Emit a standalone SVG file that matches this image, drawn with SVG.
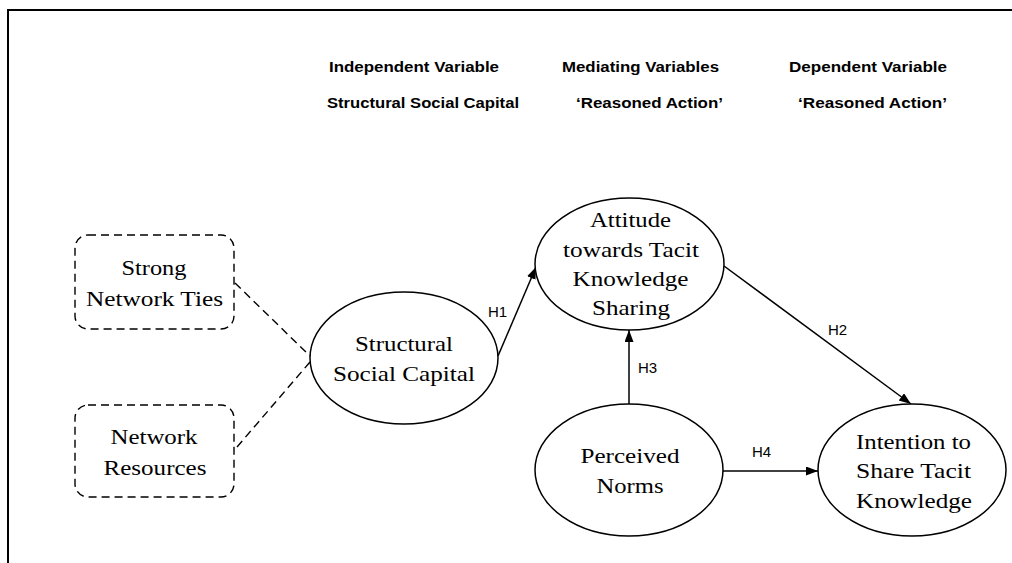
<svg xmlns="http://www.w3.org/2000/svg" width="1012" height="563" viewBox="0 0 1012 563">
<defs>
<style>
.frame{fill:none;stroke:#000;stroke-width:2}
.node{fill:#fff;stroke:#000;stroke-width:1.5}
.dbox{fill:#fff;stroke:#000;stroke-width:1.4;stroke-dasharray:8,5}
.dline{fill:none;stroke:#000;stroke-width:1.4;stroke-dasharray:8,5}
.arr{fill:none;stroke:#000;stroke-width:1.5;marker-end:url(#ah)}
.lbl{font-family:"Liberation Serif","Times New Roman",serif;font-size:22px;fill:#000;text-anchor:middle}
.hd{font-family:"Liberation Sans",Arial,sans-serif;font-size:14px;font-weight:bold;fill:#000}
.h{font-family:"Liberation Sans",Arial,sans-serif;font-size:15px;fill:#000}
</style>
<marker id="ah" markerWidth="13" markerHeight="10" refX="12" refY="4.5" orient="auto" markerUnits="userSpaceOnUse">
<path d="M0,0 L12,4.5 L0,9 z" fill="#000"/>
</marker>
</defs>
<rect width="1012" height="563" fill="#fff"/>
<path class="frame" d="M8,563 L8,10 L1012,10"/>
<g id="headers">
<text class="hd" x="329" y="72" textLength="170" lengthAdjust="spacingAndGlyphs">Independent Variable</text>
<text class="hd" x="562" y="72" textLength="157" lengthAdjust="spacingAndGlyphs">Mediating Variables</text>
<text class="hd" x="789" y="72" textLength="158" lengthAdjust="spacingAndGlyphs">Dependent Variable</text>
<text class="hd" x="327" y="108" textLength="192" lengthAdjust="spacingAndGlyphs">Structural Social Capital</text>
<text class="hd" x="576" y="108" textLength="147" lengthAdjust="spacingAndGlyphs">‘Reasoned Action’</text>
<text class="hd" x="798" y="108" textLength="149" lengthAdjust="spacingAndGlyphs">‘Reasoned Action’</text>
</g>
<g id="connectors">
<line class="dline" x1="235" y1="283" x2="310" y2="356"/>
<line class="dline" x1="237" y1="447" x2="310" y2="362"/>
<line class="arr" x1="498" y1="356" x2="536" y2="267"/>
<line class="arr" x1="724" y1="266" x2="911" y2="404"/>
<line class="arr" x1="629" y1="404" x2="629" y2="330"/>
<line class="arr" x1="723" y1="471" x2="818" y2="471"/>
<text class="h" x="488" y="317">H1</text>
<text class="h" x="828" y="335">H2</text>
<text class="h" x="638" y="373">H3</text>
<text class="h" x="752" y="457">H4</text>
</g>
<g id="strong-network-ties">
<rect class="dbox" x="75" y="235" width="159" height="94" rx="13"/>
<text class="lbl" x="154" y="275" textLength="65" lengthAdjust="spacingAndGlyphs">Strong</text>
<text class="lbl" x="154.5" y="306" textLength="137" lengthAdjust="spacingAndGlyphs">Network Ties</text>
</g>
<g id="network-resources">
<rect class="dbox" x="75" y="405" width="159" height="92" rx="13"/>
<text class="lbl" x="154" y="444" textLength="87" lengthAdjust="spacingAndGlyphs">Network</text>
<text class="lbl" x="155" y="475" textLength="103" lengthAdjust="spacingAndGlyphs">Resources</text>
</g>
<g id="structural-social-capital">
<ellipse class="node" cx="404" cy="358" rx="94" ry="66"/>
<text class="lbl" x="404" y="351" textLength="98" lengthAdjust="spacingAndGlyphs">Structural</text>
<text class="lbl" x="404" y="381" textLength="142" lengthAdjust="spacingAndGlyphs">Social Capital</text>
</g>
<g id="attitude">
<ellipse class="node" cx="629.5" cy="264" rx="94.5" ry="66"/>
<text class="lbl" x="630.5" y="227" textLength="81" lengthAdjust="spacingAndGlyphs">Attitude</text>
<text class="lbl" x="631" y="257" textLength="136" lengthAdjust="spacingAndGlyphs">towards Tacit</text>
<text class="lbl" x="630.5" y="286" textLength="116" lengthAdjust="spacingAndGlyphs">Knowledge</text>
<text class="lbl" x="631" y="315" textLength="78" lengthAdjust="spacingAndGlyphs">Sharing</text>
</g>
<g id="perceived-norms">
<ellipse class="node" cx="629" cy="470" rx="94" ry="66"/>
<text class="lbl" x="630" y="463" textLength="99" lengthAdjust="spacingAndGlyphs">Perceived</text>
<text class="lbl" x="630" y="493" textLength="67" lengthAdjust="spacingAndGlyphs">Norms</text>
</g>
<g id="intention">
<ellipse class="node" cx="912" cy="470" rx="94" ry="66"/>
<text class="lbl" x="913.5" y="449" textLength="115" lengthAdjust="spacingAndGlyphs">Intention to</text>
<text class="lbl" x="913.5" y="478" textLength="115" lengthAdjust="spacingAndGlyphs">Share Tacit</text>
<text class="lbl" x="914" y="508" textLength="116" lengthAdjust="spacingAndGlyphs">Knowledge</text>
</g>
</svg>
